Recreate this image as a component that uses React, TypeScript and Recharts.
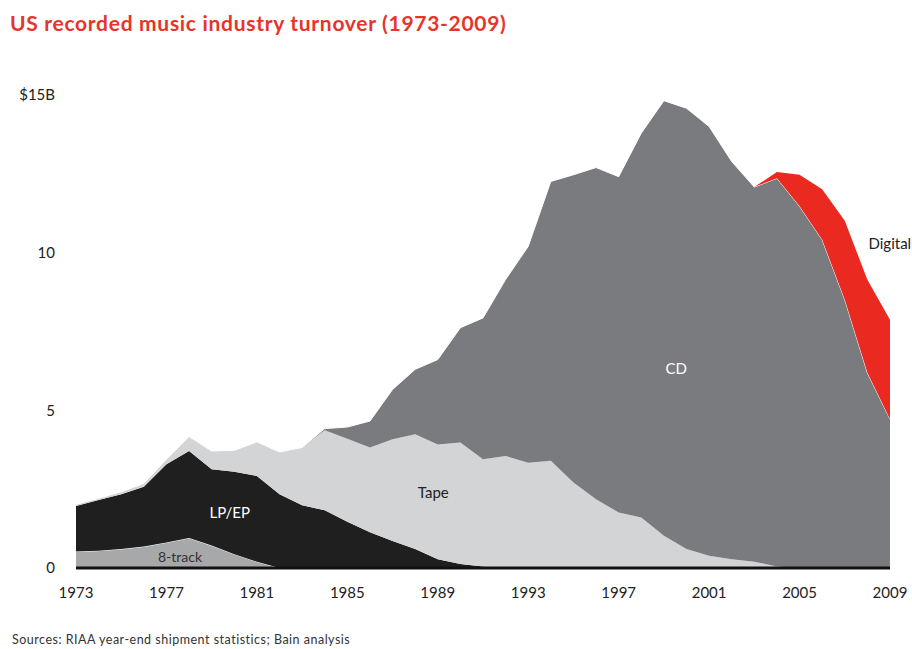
import { AreaChart, Area, XAxis, YAxis, ReferenceDot } from 'recharts';

const years = [
  1973, 1974, 1975, 1976, 1977, 1978, 1979, 1980, 1981, 1982, 1983, 1984, 1985,
  1986, 1987, 1988, 1989, 1990, 1991, 1992, 1993, 1994, 1995, 1996, 1997, 1998,
  1999, 2000, 2001, 2002, 2003, 2004, 2005, 2006, 2007, 2008, 2009,
];

// $B per year, bottom layer first
const eightTrack = [
  0.52, 0.55, 0.6, 0.68, 0.81, 0.95, 0.71, 0.44, 0.2, 0, 0, 0, 0,
  0, 0, 0, 0, 0, 0, 0, 0, 0, 0, 0, 0, 0,
  0, 0, 0, 0, 0, 0, 0, 0, 0, 0, 0,
];
const lpEp = [
  1.45, 1.61, 1.74, 1.9, 2.48, 2.76, 2.42, 2.61, 2.72, 2.34, 1.99, 1.83, 1.47,
  1.13, 0.86, 0.6, 0.28, 0.13, 0.05, 0, 0, 0, 0, 0, 0, 0,
  0, 0, 0, 0, 0, 0, 0, 0, 0, 0, 0,
];
const tape = [
  0.05, 0.05, 0.08, 0.1, 0.16, 0.46, 0.58, 0.68, 1.08, 1.34, 1.83, 2.54, 2.63,
  2.69, 3.22, 3.64, 3.64, 3.85, 3.4, 3.55, 3.34, 3.4, 2.71, 2.18, 1.76, 1.6,
  1.02, 0.6, 0.39, 0.28, 0.2, 0.05, 0, 0, 0, 0, 0,
];
const cd = [
  0, 0, 0, 0, 0, 0, 0, 0, 0, 0, 0, 0.05, 0.37,
  0.84, 1.58, 2.06, 2.69, 3.64, 4.48, 5.6, 6.86, 8.86, 9.76, 10.52, 10.65, 12.19,
  13.8, 13.98, 13.61, 12.61, 11.88, 12.31, 11.47, 10.41, 8.51, 6.19, 4.72,
];
const digital = [
  0, 0, 0, 0, 0, 0, 0, 0, 0, 0, 0, 0, 0,
  0, 0, 0, 0, 0, 0, 0, 0, 0, 0, 0, 0, 0,
  0, 0, 0, 0, 0, 0.2, 1.0, 1.6, 2.5, 2.95, 3.15,
];

const xTicks = [1973, 1977, 1981, 1985, 1989, 1993, 1997, 2001, 2005, 2009];
const yTicks = [0, 5, 10, 15];

const data = years.map((year, i) => ({
  year,
  eightTrack: eightTrack[i],
  lpEp: lpEp[i],
  tape: tape[i],
  cd: cd[i],
  digital: digital[i],
}));

const font = 'Lato, "Open Sans", sans-serif';

export default function App() {
  return (
    <div
      style={{
        position: 'absolute',
        left: 0,
        top: 0,
        width: 912,
        height: 649,
        background: '#fff',
        fontFamily: font,
      }}
    >
      <div
        style={{
          position: 'absolute',
          left: 10,
          top: 10,
          fontSize: 21,
          fontWeight: 700,
          letterSpacing: 0.7,
          color: '#e8332a',
          whiteSpace: 'nowrap',
        }}
      >
        US recorded music industry turnover (1973-2009)
      </div>
      <AreaChart
        width={912}
        height={649}
        data={data}
        margin={{ top: 95, right: 22, bottom: 51, left: 0 }}
      >
        <XAxis
          dataKey="year"
          type="number"
          domain={[1973, 2009]}
          ticks={xTicks}
          tickLine={false}
          axisLine={{ stroke: '#111', strokeWidth: 3 }}
          tickMargin={13}
          height={30}
          tick={{ fontSize: 15, fill: '#222', fontFamily: font }}
        />
        <YAxis
          type="number"
          domain={[0, 15]}
          ticks={yTicks}
          width={76}
          axisLine={false}
          tickLine={false}
          tickMargin={15}
          tickFormatter={(v: number) => (v === 15 ? '$15B' : String(v))}
          tick={{ fontSize: 15, fill: '#222', fontFamily: font }}
        />
        <Area type="linear" dataKey="eightTrack" stackId="1" fill="#a7a8aa" fillOpacity={1} stroke="#ffffff" strokeWidth={1} isAnimationActive={false} />
        <Area type="linear" dataKey="lpEp" stackId="1" fill="#1f1f20" fillOpacity={1} stroke="none" isAnimationActive={false} />
        <Area type="linear" dataKey="tape" stackId="1" fill="#d3d4d6" fillOpacity={1} stroke="none" isAnimationActive={false} />
        <Area type="linear" dataKey="cd" stackId="1" fill="#797b7e" fillOpacity={1} stroke="#ffffff" strokeWidth={1} isAnimationActive={false} />
        <Area type="linear" dataKey="digital" stackId="1" fill="#ea2a20" fillOpacity={1} stroke="none" isAnimationActive={false} />
        <ReferenceDot x={1979.8} y={1.77} r={0} fill="none" stroke="none"
          label={{ value: 'LP/EP', position: 'center', fill: '#ffffff', fontSize: 15, fontFamily: font }} />
        <ReferenceDot x={1977.6} y={0.35} r={0} fill="none" stroke="none"
          label={{ value: '8-track', position: 'center', fill: '#333', fontSize: 14, fontFamily: font }} />
        <ReferenceDot x={1988.8} y={2.4} r={0} fill="none" stroke="none"
          label={{ value: 'Tape', position: 'center', fill: '#222', fontSize: 15, fontFamily: font }} />
        <ReferenceDot x={1999.55} y={6.33} r={0} fill="none" stroke="none"
          label={{ value: 'CD', position: 'center', fill: '#ffffff', fontSize: 15, fontFamily: font }} />
        <ReferenceDot x={2008.05} y={10.3} r={0} fill="none" stroke="none"
          label={{ value: 'Digital', position: 'right', offset: 0, fill: '#222', fontSize: 15, fontFamily: font }} />
      </AreaChart>
      <div
        style={{
          position: 'absolute',
          left: 12,
          top: 633,
          fontSize: 12.5,
          lineHeight: '14px',
          letterSpacing: 0.5,
          color: '#333',
          whiteSpace: 'nowrap',
        }}
      >
        Sources: RIAA year-end shipment statistics; Bain analysis
      </div>
    </div>
  );
}
